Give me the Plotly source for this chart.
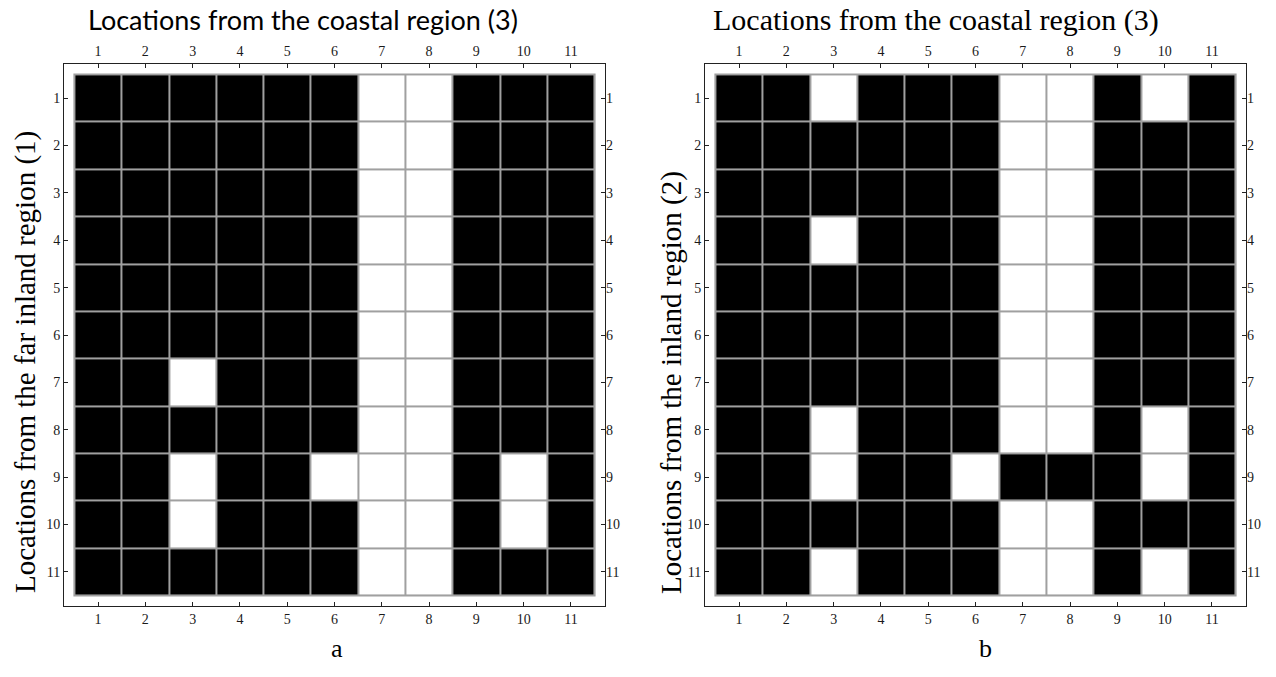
import plotly.graph_objects as go

# ---- data ----
cols = list(range(1, 12))          # locations from the coastal region (3)
rows = list(range(1, 12))          # locations from inland regions
tick_labels = [str(i) for i in cols]

# 1 = black cell, 0 = white cell ; rows 1..11 top to bottom
panel_a = [
    [1, 1, 1, 1, 1, 1, 0, 0, 1, 1, 1],
    [1, 1, 1, 1, 1, 1, 0, 0, 1, 1, 1],
    [1, 1, 1, 1, 1, 1, 0, 0, 1, 1, 1],
    [1, 1, 1, 1, 1, 1, 0, 0, 1, 1, 1],
    [1, 1, 1, 1, 1, 1, 0, 0, 1, 1, 1],
    [1, 1, 1, 1, 1, 1, 0, 0, 1, 1, 1],
    [1, 1, 0, 1, 1, 1, 0, 0, 1, 1, 1],
    [1, 1, 1, 1, 1, 1, 0, 0, 1, 1, 1],
    [1, 1, 0, 1, 1, 0, 0, 0, 1, 0, 1],
    [1, 1, 0, 1, 1, 1, 0, 0, 1, 0, 1],
    [1, 1, 1, 1, 1, 1, 0, 0, 1, 1, 1],
]
panel_b = [
    [1, 1, 0, 1, 1, 1, 0, 0, 1, 0, 1],
    [1, 1, 1, 1, 1, 1, 0, 0, 1, 1, 1],
    [1, 1, 1, 1, 1, 1, 0, 0, 1, 1, 1],
    [1, 1, 0, 1, 1, 1, 0, 0, 1, 1, 1],
    [1, 1, 1, 1, 1, 1, 0, 0, 1, 1, 1],
    [1, 1, 1, 1, 1, 1, 0, 0, 1, 1, 1],
    [1, 1, 1, 1, 1, 1, 0, 0, 1, 1, 1],
    [1, 1, 0, 1, 1, 1, 0, 0, 1, 0, 1],
    [1, 1, 0, 1, 1, 0, 1, 1, 1, 0, 1],
    [1, 1, 1, 1, 1, 1, 0, 0, 1, 1, 1],
    [1, 1, 0, 1, 1, 1, 0, 0, 1, 0, 1],
]
top_title = "Locations from the coastal region (3)"
ytitle_a = "Locations from the far inland region (1)"
ytitle_b = "Locations from the inland region (2)"

# ---- style ----
W, H = 1276, 677
SERIF = "Liberation Serif, Times New Roman, serif"
SANS = "Lato, Carlito, sans-serif"
GRID = "#a0a0a0"
FRAME = "#222222"
pad = 0.22
xr = [cols[0] - 0.5 - pad, cols[-1] + 0.5 + pad]
yr = [rows[-1] + 0.5 + pad, rows[0] - 0.5 - pad]

fig = go.Figure()

panels = [
    dict(z=panel_a, xa="x", ya="y", xt="x3", yt="y3", dom=[64 / W, 605 / W]),
    dict(z=panel_b, xa="x2", ya="y2", xt="x4", yt="y4", dom=[705 / W, 1246 / W]),
]
ydom = [(H - 606) / H, (H - 64) / H]

for p in panels:
    fig.add_trace(go.Heatmap(
        z=p["z"], x=cols, y=rows, xaxis=p["xa"], yaxis=p["ya"],
        colorscale=[[0, "white"], [1, "black"]], zmin=0, zmax=1,
        showscale=False, xgap=2, ygap=2, hoverinfo="skip"))
    fig.add_trace(go.Scatter(
        x=cols, y=rows, xaxis=p["xt"], yaxis=p["yt"], mode="markers",
        marker=dict(opacity=0), hoverinfo="skip", showlegend=False))
    fig.add_shape(type="rect", xref=p["xa"], yref=p["ya"], layer="below",
                  x0=cols[0] - 0.5, x1=cols[-1] + 0.5,
                  y0=rows[0] - 0.5, y1=rows[-1] + 0.5,
                  fillcolor=GRID, line=dict(color=GRID, width=2))

tickfont = dict(family=SERIF, size=14, color="#1a1a1a")
common = dict(tickmode="array", tickvals=cols, ticktext=tick_labels,
              ticks="inside", ticklen=4, tickcolor=FRAME, tickfont=tickfont,
              showgrid=False, zeroline=False, fixedrange=True)

layout = dict(width=W, height=H, margin=dict(l=0, r=0, t=0, b=0),
              paper_bgcolor="white", plot_bgcolor="white", showlegend=False)

for i, p in enumerate(panels):
    xn = p["xa"].replace("x", "xaxis")
    yn = p["ya"].replace("y", "yaxis")
    xtn = p["xt"].replace("x", "xaxis")
    ytn = p["yt"].replace("y", "yaxis")
    layout[xn] = dict(common, domain=p["dom"], range=xr, anchor=p["ya"],
                      showline=True, mirror=True, linecolor=FRAME, linewidth=1)
    layout[yn] = dict(common, domain=ydom, range=yr, anchor=p["xa"],
                      showline=True, mirror=True, linecolor=FRAME, linewidth=1)
    layout[xtn] = dict(common, range=xr, overlaying=p["xa"], side="top",
                       anchor=p["ya"], showline=False, ticklabelstandoff=4)
    layout[ytn] = dict(common, range=yr, overlaying=p["ya"], side="right",
                       anchor=p["xa"], showline=False)

fig.update_layout(**layout)

ann = [
    dict(text=top_title, x=303, y=H - 20, font=dict(family=SANS, size=27)),
    dict(text=top_title, x=936, y=H - 20, font=dict(family=SERIF, size=30)),
    dict(text=ytitle_a, x=25, y=H - 362, textangle=-90, font=dict(family=SERIF, size=29)),
    dict(text=ytitle_b, x=671, y=H - 383, textangle=-90, font=dict(family=SERIF, size=29)),
    dict(text="a", x=337, y=H - 648, font=dict(family=SERIF, size=26)),
    dict(text="b", x=985, y=H - 648, font=dict(family=SERIF, size=26)),
]
for a in ann:
    fig.add_annotation(xref="paper", yref="paper", x=a["x"] / W, y=a["y"] / H,
                       text=a["text"], showarrow=False, textangle=a.get("textangle", 0),
                       font=dict(a["font"], color="black"),
                       xanchor="center", yanchor="middle")

fig.write_html("out.html", config={"displayModeBar": False},
               post_script="document.body.style.margin='0';")
